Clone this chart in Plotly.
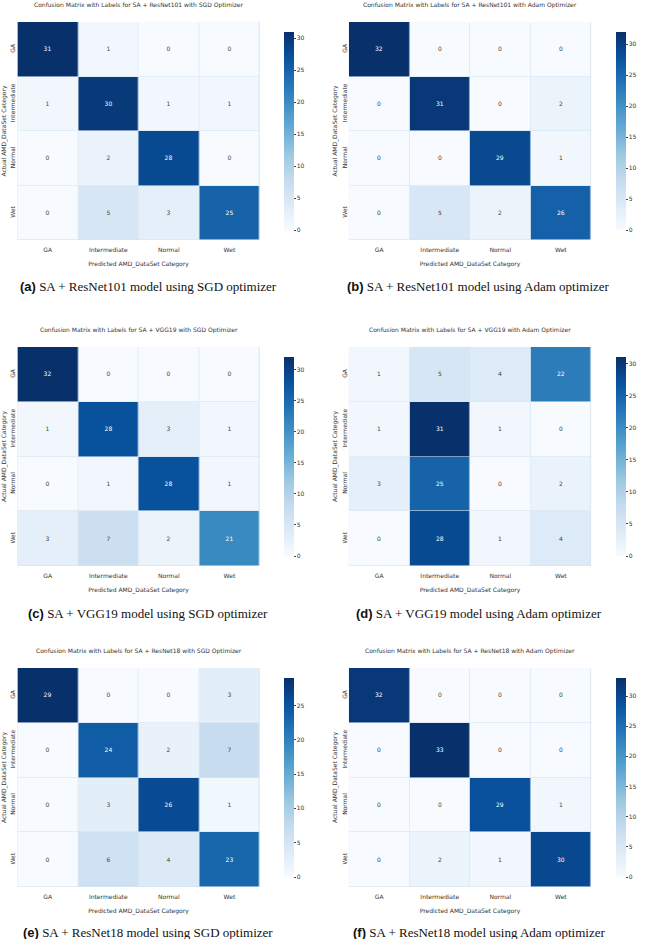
import plotly.graph_objects as go

W, H = 647, 939

cats = ["GA", "Intermediate", "Normal", "Wet"]

cm_resnet101_sgd = [[31, 1, 0, 0], [1, 30, 1, 1], [0, 2, 28, 0], [0, 5, 3, 25]]
cm_resnet101_adam = [[32, 0, 0, 0], [0, 31, 0, 2], [0, 0, 29, 1], [0, 5, 2, 26]]
cm_vgg19_sgd = [[32, 0, 0, 0], [1, 28, 3, 1], [0, 1, 28, 1], [3, 7, 2, 21]]
cm_vgg19_adam = [[1, 5, 4, 22], [1, 31, 1, 0], [3, 25, 0, 2], [0, 28, 1, 4]]
cm_resnet18_sgd = [[29, 0, 0, 3], [0, 24, 2, 7], [0, 3, 26, 1], [0, 6, 4, 23]]
cm_resnet18_adam = [[32, 0, 0, 0], [0, 33, 0, 0], [0, 0, 29, 1], [0, 2, 1, 30]]

titles = [
    "Confusion Matrix with Labels for SA + ResNet101 with SGD Optimizer",
    "Confusion Matrix with Labels for SA + ResNet101 with Adam Optimizer",
    "Confusion Matrix with Labels for SA + VGG19 with SGD Optimizer",
    "Confusion Matrix with Labels for SA + VGG19 with Adam Optimizer",
    "Confusion Matrix with Labels for SA + ResNet18 with SGD Optimizer",
    "Confusion Matrix with Labels for SA + ResNet18 with Adam Optimizer",
]
captions = [
    ("(a)", "SA + ResNet101 model using SGD optimizer"),
    ("(b)", "SA + ResNet101 model using Adam optimizer"),
    ("(c)", "SA + VGG19 model using SGD optimizer"),
    ("(d)", "SA + VGG19 model using Adam optimizer"),
    ("(e)", "SA + ResNet18 model using SGD optimizer"),
    ("(f)", "SA + ResNet18 model using Adam optimizer"),
]
matrices = [cm_resnet101_sgd, cm_resnet101_adam, cm_vgg19_sgd,
            cm_vgg19_adam, cm_resnet18_sgd, cm_resnet18_adam]

blues = ["#f7fbff", "#deebf7", "#c6dbef", "#9ecae1", "#6baed6",
         "#4292c6", "#2171b5", "#08519c", "#08306b"]
scale = [[i / 8, c] for i, c in enumerate(blues)]

# pixel boxes of the heatmaps (left, right, top, bottom)
cols_px = [(18, 268), (360, 610)]
rows_px = [(22, 240), (347, 566), (668, 887)]
caption_y = [286, 613, 932]
caption_x = [153, 494]
cbar_x = [283, 625]

small = dict(family="DejaVu Sans", size=6, color="#333333")

fig = go.Figure()
layout = {}
annotations = []

for k, z in enumerate(matrices):
    r, c = divmod(k, 2)
    x0, x1 = cols_px[c]
    y0, y1 = rows_px[r]
    n = "" if k == 0 else str(k + 1)
    zmax = max(max(row) for row in z)
    fig.add_trace(go.Heatmap(
        z=z, x=cats, y=cats, xaxis="x" + n, yaxis="y" + n,
        colorscale=scale, zmin=0, zmax=zmax,
        xgap=0.6, ygap=0.6, hoverinfo="skip",
        texttemplate="%{z}", textfont=dict(family="DejaVu Sans", size=6),
        colorbar=dict(
            x=cbar_x[c] / W, xanchor="left", y=1 - (y0 + y1) / 2 / H,
            yanchor="middle", len=(y1 - y0) / H, lenmode="fraction",
            thickness=10, outlinewidth=0, dtick=5, tick0=0,
            ticks="outside", ticklen=2, tickcolor="#444",
            tickfont=small,
        ),
    ))
    layout["xaxis" + n] = dict(
        domain=[x0 / W, x1 / W], anchor="y" + n, showgrid=False,
        tickfont=small, ticks="", zeroline=False, ticklabelstandoff=5,
        title=dict(text="Predicted AMD_DataSet Category", font=small, standoff=9),
    )
    layout["yaxis" + n] = dict(
        domain=[1 - y1 / H, 1 - y0 / H], anchor="x" + n, showgrid=False,
        autorange="reversed", tickangle=-90, tickfont=small, ticks="",
        zeroline=False,
        title=dict(text="Actual AMD_DataSet Category", font=small, standoff=2),
    )
    annotations.append(dict(
        text=titles[k], xref="paper", yref="paper",
        x=(x0 + x1) / 2 / W, y=1 - (y0 - 17) / H,
        showarrow=False, font=small, xanchor="center", yanchor="middle",
    ))
    tag, cap = captions[k]
    annotations.append(dict(
        text="<span style='font-family:Liberation Sans'><b>" + tag + "</b></span> " + cap,
        xref="paper", yref="paper",
        x=caption_x[c] / W, y=1 - caption_y[r] / H,
        showarrow=False, xanchor="center", yanchor="middle",
        font=dict(family="Liberation Serif", size=13, color="#111"),
    ))

fig.update_layout(
    width=W, height=H, margin=dict(l=0, r=0, t=0, b=0),
    paper_bgcolor="white", plot_bgcolor="#d6e4f2",
    annotations=annotations, **layout,
)

# drop the page's default body margin so the figure fills the window
fig.write_html("out.html", config={"displayModeBar": False},
               post_script="document.body.style.margin='0';")
